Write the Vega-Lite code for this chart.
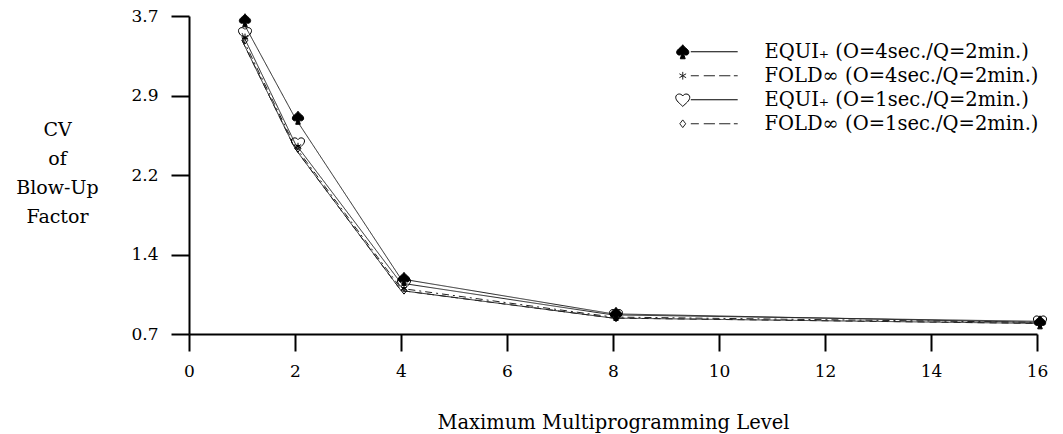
{
  "$schema": "https://vega.github.io/schema/vega-lite/v6.json",
  "autosize": {"type": "none"},
  "padding": {"left": 189, "top": 16, "right": 26, "bottom": 100},
  "width": 848,
  "height": 318,
  "background": "white",
  "config": {
    "view": {"stroke": null},
    "font": "DejaVu Serif",
    "axis": {
      "grid": false,
      "domainColor": "black",
      "domainWidth": 2,
      "tickColor": "black",
      "tickWidth": 2,
      "labelFont": "DejaVu Serif",
      "labelFontSize": 17,
      "labelColor": "black",
      "titleFont": "DejaVu Serif",
      "titleFontSize": 19.5,
      "titleFontWeight": "normal",
      "titleColor": "black"
    },
    "legend": {
      "labelFont": "DejaVu Serif",
      "labelFontSize": 19.5,
      "labelColor": "black",
      "labelLimit": 500,
      "padding": 0
    }
  },
  "data": {
    "values": [
      {"series": "EQUI₊  (O=4sec./Q=2min.)", "mpl": 1, "cv": 3.66},
      {"series": "EQUI₊  (O=4sec./Q=2min.)", "mpl": 2, "cv": 2.74},
      {"series": "EQUI₊  (O=4sec./Q=2min.)", "mpl": 4, "cv": 1.22},
      {"series": "EQUI₊  (O=4sec./Q=2min.)", "mpl": 8, "cv": 0.89},
      {"series": "EQUI₊  (O=4sec./Q=2min.)", "mpl": 16, "cv": 0.81},
      {"series": "FOLD∞ (O=4sec./Q=2min.)", "mpl": 1, "cv": 3.5},
      {"series": "FOLD∞ (O=4sec./Q=2min.)", "mpl": 2, "cv": 2.47},
      {"series": "FOLD∞ (O=4sec./Q=2min.)", "mpl": 4, "cv": 1.13},
      {"series": "FOLD∞ (O=4sec./Q=2min.)", "mpl": 8, "cv": 0.86},
      {"series": "FOLD∞ (O=4sec./Q=2min.)", "mpl": 16, "cv": 0.81},
      {"series": "EQUI₊  (O=1sec./Q=2min.)", "mpl": 1, "cv": 3.54},
      {"series": "EQUI₊  (O=1sec./Q=2min.)", "mpl": 2, "cv": 2.5},
      {"series": "EQUI₊  (O=1sec./Q=2min.)", "mpl": 4, "cv": 1.18},
      {"series": "EQUI₊  (O=1sec./Q=2min.)", "mpl": 8, "cv": 0.88},
      {"series": "EQUI₊  (O=1sec./Q=2min.)", "mpl": 16, "cv": 0.82},
      {"series": "FOLD∞ (O=1sec./Q=2min.)", "mpl": 1, "cv": 3.47},
      {"series": "FOLD∞ (O=1sec./Q=2min.)", "mpl": 2, "cv": 2.45},
      {"series": "FOLD∞ (O=1sec./Q=2min.)", "mpl": 4, "cv": 1.11},
      {"series": "FOLD∞ (O=1sec./Q=2min.)", "mpl": 8, "cv": 0.85},
      {"series": "FOLD∞ (O=1sec./Q=2min.)", "mpl": 16, "cv": 0.8}
    ]
  },
  "encoding": {
    "x": {
      "field": "mpl",
      "type": "quantitative",
      "scale": {"domain": [0, 16], "nice": false, "zero": false},
      "axis": {
        "title": "Maximum Multiprogramming Level",
        "values": [0, 2, 4, 6, 8, 10, 12, 14, 16],
        "tickSize": 17,
        "labelPadding": 12,
        "titlePadding": 34,
        "labelFlush": false
      }
    },
    "y": {
      "field": "cv",
      "type": "quantitative",
      "scale": {"domain": [0.7, 3.7], "nice": false, "zero": false},
      "axis": {
        "title": ["CV", "of", "Blow-Up", "Factor"],
        "titleAngle": 0,
        "titleAlign": "center",
        "titleBaseline": "top",
        "titleFontSize": 19,
        "titleX": -132,
        "titleY": 104,
        "titleLineHeight": 29,
        "values": [0.7, 1.45, 2.2, 2.95, 3.7],
        "labelExpr": "datum.value < 1 ? '0.7' : datum.value < 2 ? '1.4' : datum.value < 2.5 ? '2.2' : datum.value < 3.3 ? '2.9' : '3.7'",
        "tickSize": 18,
        "labelPadding": 13,
        "labelFlush": false
      }
    }
  },
  "layer": [
    {
      "mark": {"type": "line", "color": "#222222", "strokeWidth": 1},
      "encoding": {
        "detail": {"field": "series"},
        "strokeDash": {
          "condition": {"test": "indexof(datum.series, 'FOLD∞ (O=4') >= 0", "value": [7, 4, 2, 4]},
          "value": [1, 0]
        }
      }
    },
    {
      "mark": {"type": "line", "color": "#222222", "strokeWidth": 1, "strokeDash": [7, 5]},
      "transform": [{"filter": "indexof(datum.series, 'FOLD∞ (O=1') >= 0"}],
      "encoding": {}
    },
    {
      "mark": {"type": "point", "filled": true, "stroke": "black", "strokeWidth": 1, "size": 170, "opacity": 1, "xOffset": 3},
      "encoding": {
        "shape": {
          "condition": [
            {"test": "datum.series === 'EQUI₊  (O=4sec./Q=2min.)'", "value": "M0,-1C0.25,-0.55 1,-0.3 0.85,0.2C0.75,0.55 0.3,0.55 0.12,0.3L0.35,1L-0.35,1L-0.12,0.3C-0.3,0.55 -0.75,0.55 -0.85,0.2C-1,-0.3 -0.25,-0.55 0,-1Z"},
            {"test": "datum.series === 'FOLD∞ (O=4sec./Q=2min.)'", "value": "M0,-0.55L0,0.55M-0.48,-0.28L0.48,0.28M-0.48,0.28L0.48,-0.28"},
            {"test": "datum.series === 'EQUI₊  (O=1sec./Q=2min.)'", "value": "M0,0.95C-0.4,0.55 -1,0.15 -1,-0.35C-1,-0.85 -0.3,-1 0,-0.55C0.3,-1 1,-0.85 1,-0.35C1,0.15 0.4,0.55 0,0.95Z"}
          ],
          "value": "M0,-0.55L0.42,0L0,0.55L-0.42,0Z"
        },
        "fill": {
          "condition": {"test": "datum.series === 'EQUI₊  (O=4sec./Q=2min.)'", "value": "black"},
          "value": "transparent"
        }
      }
    },
    {
      "mark": {"type": "point", "filled": true, "stroke": "black", "strokeWidth": 1, "opacity": 1},
      "transform": [{"filter": "false"}],
      "encoding": {
        "shape": {
          "field": "series",
          "type": "nominal",
          "scale": {
            "domain": ["EQUI₊  (O=4sec./Q=2min.)", "FOLD∞ (O=4sec./Q=2min.)", "EQUI₊  (O=1sec./Q=2min.)", "FOLD∞ (O=1sec./Q=2min.)"],
            "range": [
              "M0,-1C0.25,-0.55 1,-0.3 0.85,0.2C0.75,0.55 0.3,0.55 0.12,0.3L0.35,1L-0.35,1L-0.12,0.3C-0.3,0.55 -0.75,0.55 -0.85,0.2C-1,-0.3 -0.25,-0.55 0,-1ZM1.15,0L7.85,0",
              "M0,-0.55L0,0.55M-0.48,-0.28L0.48,0.28M-0.48,0.28L0.48,-0.28M1.15,0L2.3,0M3,0L4.6,0M5.2,0L6.8,0M7.3,0L7.85,0",
              "M0,0.95C-0.4,0.55 -1,0.15 -1,-0.35C-1,-0.85 -0.3,-1 0,-0.55C0.3,-1 1,-0.85 1,-0.35C1,0.15 0.4,0.55 0,0.95ZM1.15,0L7.85,0",
              "M0,-0.55L0.42,0L0,0.55L-0.42,0ZM1.15,0L2.3,0M3,0L4.6,0M5.2,0L6.8,0M7.3,0L7.85,0"
            ]
          },
          "legend": {
            "title": null,
            "orient": "none",
            "legendX": 484,
            "legendY": 26,
            "symbolSize": 196,
            "symbolStrokeWidth": 1,
            "labelOffset": 72,
            "rowPadding": 3
          }
        },
        "fill": {
          "field": "series",
          "type": "nominal",
          "scale": {
            "domain": ["EQUI₊  (O=4sec./Q=2min.)", "FOLD∞ (O=4sec./Q=2min.)", "EQUI₊  (O=1sec./Q=2min.)", "FOLD∞ (O=1sec./Q=2min.)"],
            "range": ["black", "transparent", "transparent", "transparent"]
          },
          "legend": {
            "title": null,
            "orient": "none",
            "legendX": 484,
            "legendY": 26,
            "symbolSize": 196,
            "symbolStrokeWidth": 1,
            "labelOffset": 72,
            "rowPadding": 3
          }
        },
        "stroke": {
          "field": "series",
          "type": "nominal",
          "scale": {
            "domain": ["EQUI₊  (O=4sec./Q=2min.)", "FOLD∞ (O=4sec./Q=2min.)", "EQUI₊  (O=1sec./Q=2min.)", "FOLD∞ (O=1sec./Q=2min.)"],
            "range": ["black", "#222222", "black", "#222222"]
          },
          "legend": {
            "title": null,
            "orient": "none",
            "legendX": 484,
            "legendY": 26,
            "symbolSize": 196,
            "symbolStrokeWidth": 1,
            "labelOffset": 72,
            "rowPadding": 3
          }
        }
      }
    }
  ]
}
